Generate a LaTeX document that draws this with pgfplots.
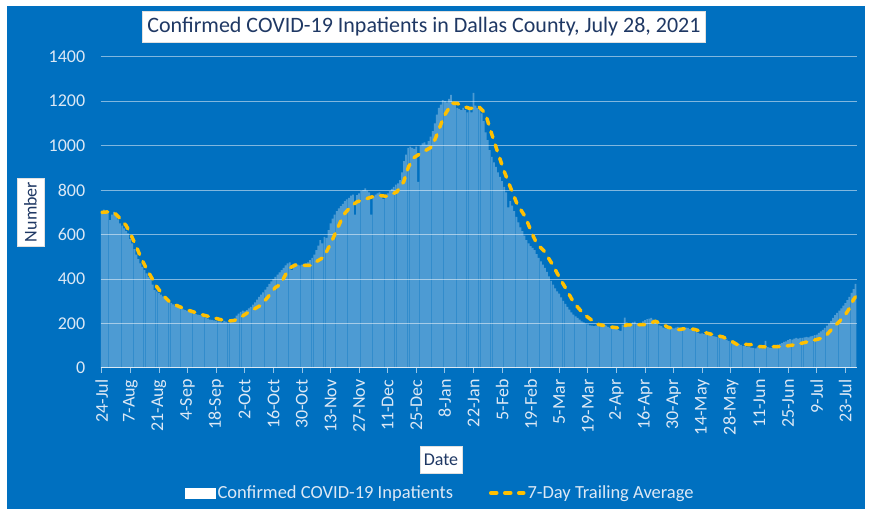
\documentclass[border=0pt]{standalone}
\usepackage{pgfplots}
\pgfplotsset{compat=1.18}
\usepackage{pgfplotstable}
\usepackage{fontspec}
\setmainfont{Carlito}
\definecolor{bgblue}{HTML}{0070C0}
\definecolor{ticktext}{HTML}{DCE8F5}
\definecolor{navy}{HTML}{1F3864}
\definecolor{avgyellow}{HTML}{FFC000}

\pgfplotstableread[header=false,row sep=\\]{
705\\712\\708\\700\\665\\690\\702\\
690\\668\\650\\640\\628\\615\\605\\
580\\560\\535\\510\\490\\470\\455\\
440\\425\\410\\395\\375\\350\\345\\
338\\330\\322\\315\\308\\300\\292\\
286\\280\\276\\272\\268\\264\\260\\
256\\252\\250\\246\\242\\240\\238\\
236\\230\\226\\222\\218\\216\\214\\
212\\210\\208\\205\\212\\208\\204\\
210\\215\\222\\235\\245\\252\\258\\
255\\260\\268\\275\\285\\295\\308\\
320\\330\\340\\352\\365\\378\\390\\
400\\410\\420\\430\\440\\450\\462\\
470\\475\\440\\468\\470\\465\\462\\
465\\468\\470\\475\\485\\495\\510\\
530\\550\\575\\560\\590\\585\\620\\
650\\672\\690\\705\\718\\728\\738\\
750\\758\\765\\775\\780\\690\\778\\
785\\795\\800\\808\\798\\790\\690\\
770\\780\\785\\790\\780\\760\\775\\
785\\795\\805\\815\\825\\830\\845\\
880\\930\\960\\990\\995\\990\\985\\
995\\837\\1000\\1010\\1015\\1005\\1020\\
1040\\1065\\1100\\1140\\1170\\1185\\1205\\
1200\\1195\\1210\\1228\\1190\\1185\\1170\\
1165\\1160\\1170\\1160\\1150\\1165\\1150\\
1237\\1180\\1170\\1160\\1145\\1110\\1060\\
1025\\980\\950\\925\\905\\880\\860\\
840\\815\\790\\722\\750\\730\\705\\
680\\655\\632\\615\\595\\575\\560\\
548\\540\\530\\512\\495\\480\\465\\
450\\432\\412\\392\\375\\358\\345\\
335\\318\\302\\288\\275\\262\\250\\
240\\232\\225\\218\\210\\205\\200\\
196\\192\\190\\188\\190\\194\\192\\
188\\194\\190\\185\\180\\178\\182\\
176\\172\\167\\195\\227\\205\\198\\
200\\205\\208\\200\\196\\202\\210\\
215\\220\\222\\225\\218\\212\\205\\
192\\188\\182\\178\\176\\180\\182\\
178\\182\\185\\180\\176\\178\\182\\
180\\175\\170\\168\\162\\158\\155\\
156\\152\\150\\155\\150\\145\\142\\
140\\138\\135\\132\\130\\128\\122\\
115\\110\\107\\105\\108\\104\\100\\
98\\95\\96\\92\\90\\88\\94\\
90\\88\\86\\122\\94\\92\\90\\
95\\100\\105\\108\\112\\118\\120\\
125\\130\\128\\132\\135\\132\\136\\
136\\138\\140\\138\\142\\145\\148\\
150\\158\\165\\172\\180\\190\\200\\
212\\225\\238\\248\\258\\268\\280\\
292\\305\\320\\338\\355\\378\\
}\bars

\begin{document}
\begin{tikzpicture}[x=1pt,y=1pt]
\path[use as bounding box] (0,0) rectangle (870,513);
\fill[white] (0,0) rectangle (870,513);
\fill[bgblue] (7,4) rectangle (865,507);
\begin{axis}[
  at={(100.7pt,145pt)}, anchor=south west,
  scale only axis, width=755.8pt, height=311.3pt,
  xmin=-0.5, xmax=369.5, ymin=0, ymax=1400,
  axis x line*=bottom, axis y line*=left,
  y axis line style={draw=none},
  x axis line style={-, white, opacity=0.6, line width=1pt},
  ytick={0,200,...,1400},
  ymajorgrids,
  grid style={white, opacity=0.5, line width=1pt},
  ytick style={draw=none},
  xtick={0,14,...,364},
  xticklabels={24-Jul,7-Aug,21-Aug,4-Sep,18-Sep,2-Oct,16-Oct,30-Oct,13-Nov,27-Nov,11-Dec,25-Dec,8-Jan,22-Jan,5-Feb,19-Feb,5-Mar,19-Mar,2-Apr,16-Apr,30-Apr,14-May,28-May,11-Jun,25-Jun,9-Jul,23-Jul},
  xtick align=outside,
  xtick style={white, opacity=0.6, line width=0.8pt},
  major tick length=5pt,
  xticklabel shift=3pt,
  xticklabel style={rotate=90, anchor=east, text=ticktext, font={\fontsize{18}{21}\selectfont}},
  yticklabel style={text=ticktext, font={\fontsize{18}{21}\selectfont}, xshift=-12pt},
  /pgf/number format/assume math mode=true,
  /pgf/number format/1000 sep={},
  legend columns=2,
  legend style={at={(0.449,-0.4016)}, anchor=center, draw=none, fill=none,
    text=ticktext, font={\fontsize{18.5}{21}\selectfont},
    /tikz/every even column/.append style={column sep=34pt}},
  legend cell align=left,
]
\addplot[ybar, bar width=0.85, fill=white, fill opacity=0.3, draw=none,
  legend image code/.code={\fill[white, fill opacity=1] (0pt,-5.5pt) rectangle (31pt,5.5pt);}]
  table[x expr=\coordindex, y index=0] {\bars};
\addlegendentry{Confirmed COVID-19 Inpatients}
\addplot[sharp plot, avgyellow, line width=3.5pt, line cap=round, dash pattern=on 6pt off 8pt,
  legend image code/.code={\draw (0pt,0pt) -- (33pt,0pt);}]
  coordinates {
(0,700) (3,702) (6,700) (9,672) (12,640) (14,605) (17,545) (19,500) (22,445)
(24.5,405) (27,365) (29,340) (31,318) (33.5,295) (37,280) (41.7,262) (45,252)
(49.8,238) (54,228) (58,218) (62,211) (65,214) (68,228) (71,246) (74,262)
(77.7,281) (81,315) (85,362) (87.4,375) (90,420) (92.5,452) (94.7,463) (98,462)
(102,461) (105,478) (108.6,498) (111,540) (113.5,588) (116.8,656) (119,695)
(121.7,724) (124.9,747) (129.8,762) (134.7,777) (139.6,772) (144.5,792)
(147.8,837) (150.2,905) (152.7,945) (156,965) (161.7,995) (165,1070)
(167.4,1130) (171.5,1191) (174,1190) (177.2,1176) (180,1168) (182,1168)
(184.5,1176) (187.8,1146) (190.3,1070) (193.5,980) (196.8,890) (200,814)
(203.3,739) (207.4,679) (210.7,604) (213,559) (216.4,528) (220.5,468)
(224.5,400) (227.8,348) (231,295) (236,242) (242.5,197) (249,185) (254,179)
(257,194) (262,194) (267,196) (271,210) (274,200) (277,184) (282,172)
(286,178) (290,174) (294,163) (297,155) (301,146) (304,140) (308,122)
(311,106) (315,106) (318,105) (321,97) (324,95) (328,96) (332,96) (336,100)
(339,104) (343,112) (347,121) (352,133) (355,150) (358,181) (361,208)
(364,239) (366,268) (368,307) (369,320)
  };
\addlegendentry{7-Day Trailing Average}
\end{axis}
\node[fill=white, draw=black!12, text=navy, font={\fontsize{22}{25}\selectfont},
  inner xsep=5pt, minimum height=31pt] at (424,486.5)
  {Confirmed COVID-19 Inpatients in Dallas County, July 28, 2021};
\node[fill=white, draw=black!12, rotate=90, text=navy, font={\fontsize{18}{21}\selectfont},
  inner xsep=4pt, minimum height=27pt] at (30.5,301) {Number};
\node[fill=white, draw=black!12, text=navy, font={\fontsize{18}{21}\selectfont},
  inner xsep=4pt, minimum height=27pt] at (441,53) {Date};
\end{tikzpicture}
\end{document}
